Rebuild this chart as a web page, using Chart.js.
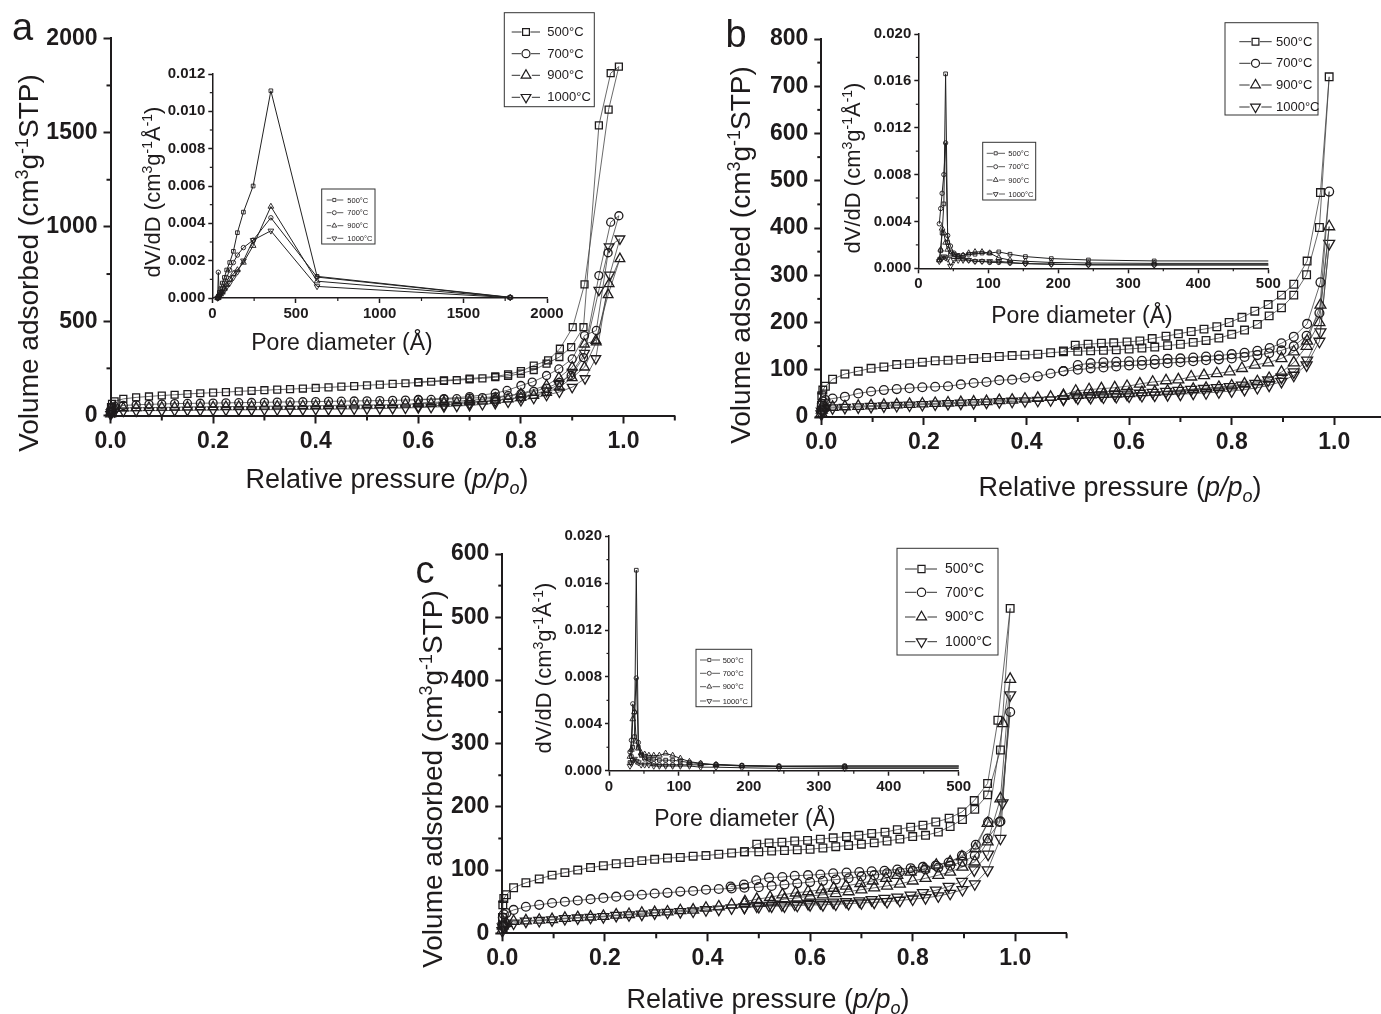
<!DOCTYPE html>
<html><head><meta charset="utf-8">
<script src="https://cdn.jsdelivr.net/npm/chart.js@4.4.1/dist/chart.umd.min.js"></script>
<style>
html,body{margin:0;padding:0;background:#fff;overflow:hidden;width:1381px;height:1014px;}
#wrap{position:relative;width:1381px;height:1014px;overflow:hidden;background:#fff;}
</style></head><body>
<div id="wrap"></div>
<script>
// ---------------- DATA ----------------
const SERIES_LABELS = ['500°C', '700°C', '900°C', '1000°C'];

// Panel a : isotherms (relative pressure p/po, volume cm3/g STP)
const P_LOW_A = [0.0003,0.001,0.003,0.008,0.025,0.05,0.075,0.1,0.125,0.15,0.175,0.2,0.225,0.25,0.275,0.3,0.325,0.35,0.375,0.4,0.425,0.45,0.475,0.5,0.525,0.55,0.575,0.6,0.625,0.65,0.675,0.7,0.725,0.75,0.775,0.8,0.825,0.85];
const A500_LOW  = [20,45,62,75,88,96,101,106,110,114,118,121,124,128,131,134,137,140,143,146,149,153,156,160,164,168,171,175,179,183,187,192,197,203,210,222,241,275];
const A700_LOW  = [15,30,40,48,53,57,59,61,63,64,65,66,67,68,69,70,71,72,73,74,75,76,77,78,79,80,82,83,85,87,89,92,95,99,105,115,128,145];
const A900_LOW  = [8,22,32,38,40,41,42,43,44,45,46,46,47,48,48,49,50,50,51,52,53,54,55,56,57,58,60,62,64,66,69,72,76,81,87,95,106,122];
const A1000_LOW = [5,15,20,22,24,25,26,26,27,28,28,29,29,30,30,31,31,32,32,33,33,34,35,36,37,38,40,42,44,47,50,54,59,65,72,80,92,108];
const A500_TAIL  = [[0.875,310],[0.898,362],[0.922,468],[0.952,1538],[0.975,1815],[0.991,1850],[0.971,1622],[0.924,695],[0.901,468],[0.876,354],[0.853,292],[0.825,265],[0.8,235],[0.775,218],[0.75,207],[0.7,196],[0.65,186],[0.6,177]];
const A700_TAIL  = [[0.875,175],[0.898,212],[0.922,307],[0.952,742],[0.975,1025],[0.991,1059],[0.97,863],[0.947,451],[0.924,424],[0.9,300],[0.874,247],[0.85,212],[0.822,177],[0.8,159],[0.773,133],[0.75,118],[0.7,100],[0.65,90],[0.6,85]];
const A900_TAIL  = [[0.875,150],[0.9,200],[0.924,256],[0.947,389],[0.972,698],[0.993,831],[0.97,640],[0.946,398],[0.924,378],[0.9,256],[0.874,200],[0.85,160],[0.8,115],[0.75,92],[0.7,80],[0.65,72],[0.6,66]];
const A1000_TAIL = [[0.875,125],[0.9,150],[0.925,196],[0.946,302],[0.973,745],[0.993,937],[0.972,895],[0.952,665],[0.924,330],[0.9,230],[0.874,165],[0.85,130],[0.8,98],[0.75,78],[0.7,64],[0.65,55],[0.6,48]];

// Panels b and c : adsorption branch grid
const P_ADS_BC = [0.0003,0.001,0.003,0.008,0.022,0.046,0.072,0.097,0.122,0.147,0.172,0.197,0.222,0.247,0.272,0.297,0.322,0.347,0.372,0.397,0.422,0.447,0.472,0.5,0.525,0.55,0.575,0.6,0.625,0.65,0.675,0.7,0.725,0.75,0.775,0.8,0.825,0.85,0.873,0.897,0.921,0.946,0.971,0.99];

// Panel b
const B500_ADS  = [25,45,57,65,80,91,97,103,106,111,113,116,119,120,122,124,126,128,130,131,133,136,138,139,140,141,142,144,146,148,151,154,158,162,167,175,184,196,214,231,258,301,401,720];
const B700_ADS  = [15,28,33,36,39,43,50,54,57,59,61,63,64,65,69,72,74,78,79,83,86,92,97,100,103,105,107,109,110,112,114,116,118,120,122,124,127,131,135,141,150,172,220,477];
const B900_ADS  = [8,15,19,21,21,22,23,24,25,26,27,28,29,30,31,32,33,35,36,38,40,42,44,46,47,48,49,50,52,53,55,57,59,61,63,66,70,75,82,95,115,150,200,403];
const B1000_ADS = [6,12,16,18,19,20,21,22,23,24,25,26,27,28,29,30,31,32,33,34,35,36,38,40,41,42,43,44,45,46,47,48,50,51,53,55,58,62,67,75,88,110,160,367];
const B500_DES  = [[0.973,475],[0.947,330],[0.921,281],[0.897,258],[0.871,238],[0.845,224],[0.82,211],[0.795,200],[0.771,191],[0.746,186],[0.721,181],[0.696,176],[0.672,171],[0.645,166],[0.621,161],[0.596,159],[0.57,157],[0.546,156],[0.52,154],[0.495,152],[0.472,140]];
const B700_DES  = [[0.973,285],[0.947,197],[0.921,170],[0.897,156],[0.874,146],[0.85,140],[0.825,136],[0.8,133],[0.775,130],[0.75,128],[0.725,126],[0.7,124],[0.675,123],[0.65,121],[0.625,119],[0.6,118],[0.575,117],[0.55,116],[0.525,114],[0.5,110],[0.472,97]];
const B900_DES  = [[0.973,237],[0.947,161],[0.921,138],[0.897,124],[0.871,115],[0.845,110],[0.82,103],[0.796,96],[0.771,92],[0.746,88],[0.721,85],[0.696,79],[0.672,77],[0.646,74],[0.621,70],[0.596,65],[0.572,62],[0.546,60],[0.522,58],[0.496,55],[0.472,46]];
const B1000_DES = [[0.973,180],[0.947,120],[0.921,95],[0.897,84],[0.871,78],[0.846,71],[0.82,67],[0.796,64],[0.771,62],[0.746,60],[0.721,58],[0.696,56],[0.672,54],[0.646,52],[0.621,50],[0.596,48],[0.572,47],[0.546,46],[0.522,45],[0.496,44],[0.472,38]];

// Panel c
const C500_ADS  = [25,45,55,61,72,80,86,92,96,100,104,107,110,112,115,117,119,120,122,123,125,127,129,129,130,131,132,133,135,137,139,141,143,146,149,153,155,160,169,180,196,219,290,514];
const C700_ADS  = [12,25,30,32,37,42,45,48,50,52,54,56,58,60,61,63,64,66,67,69,70,71,72,73,75,77,79,81,83,85,87,90,92,95,97,99,101,104,107,113,123,150,177,350];
const C900_ADS  = [5,12,15,16,19,20,21,22,24,25,26,27,29,30,32,33,34,36,37,40,42,45,47,48,50,54,56,59,61,63,66,69,72,75,78,83,87,92,97,105,113,145,213,402];
const C1000_ADS = [4,10,12,13,16,19,20,21,23,24,25,26,28,29,30,32,33,34,35,37,38,40,41,42,43,43,44,45,45,46,47,48,49,50,52,54,56,59,63,69,78,100,150,377];
const C500_DES  = [[0.966,337],[0.946,237],[0.92,210],[0.896,192],[0.871,182],[0.845,176],[0.82,171],[0.796,168],[0.77,164],[0.746,160],[0.72,158],[0.695,155],[0.671,153],[0.645,151],[0.62,149],[0.595,147],[0.57,146],[0.545,144],[0.52,143],[0.496,141],[0.472,129]];
const C700_DES  = [[0.969,176],[0.947,176],[0.923,140],[0.896,123],[0.87,112],[0.845,107],[0.82,105],[0.796,103],[0.77,101],[0.745,99],[0.72,98],[0.696,97],[0.671,96],[0.645,95],[0.62,93],[0.596,92],[0.57,91],[0.546,89],[0.52,88],[0.495,84],[0.471,77],[0.445,74]];
const C900_DES  = [[0.976,332],[0.946,174],[0.922,134],[0.896,121],[0.873,113],[0.846,108],[0.822,102],[0.796,97],[0.77,92],[0.748,87],[0.722,83],[0.698,79],[0.67,75],[0.646,71.5],[0.622,69],[0.596,66],[0.572,64],[0.546,61],[0.522,57],[0.496,54],[0.473,50]];
const C1000_DES = [[0.975,206],[0.947,125],[0.92,100],[0.896,82],[0.87,74],[0.845,68],[0.82,64],[0.796,60],[0.77,57],[0.745,55],[0.72,53],[0.696,51],[0.67,50],[0.645,49],[0.62,48],[0.596,47],[0.57,46],[0.545,45],[0.52,44],[0.496,43],[0.472,41]];

// Insets: pore size distributions (pore diameter Å, dV/dD)
const D_A = [32,36,42,50,60,72,86,104,126,150,186,244,350,626,1780];
const IA500  = [0,0.0001,0.0003,0.0005,0.0008,0.0011,0.0015,0.0019,0.0025,0.0035,0.0046,0.0060,0.0111,0.00116,0.00004];
const IA700  = [0,0.00138,0.0001,0.0003,0.0005,0.0008,0.0011,0.0015,0.0019,0.0023,0.0027,0.0031,0.0043,0.00112,0.00003];
const IA900  = [0,0.00002,0.0001,0.0002,0.0003,0.0005,0.0007,0.001,0.0013,0.0015,0.0019,0.0028,0.0049,0.0009,0.00003];
const IA1000 = [0,0.00002,0.0001,0.0002,0.0003,0.0004,0.0006,0.0008,0.0011,0.0014,0.002,0.0031,0.0036,0.00062,0.00002];

const D_BC = [30,32,34,36.5,39,42,46,51,57,64,72,81,91,102,115,131,153,190,243,337,1780];
const IB500  = [0.0007,0.0015,0.0030,0.0055,0.0166,0.0022,0.0014,0.0012,0.0011,0.0011,0.0012,0.0012,0.0013,0.0013,0.0014,0.0012,0.0010,0.00083,0.00071,0.00063,0.0006];
const IB700  = [0.0038,0.0051,0.0064,0.0080,0.0107,0.0028,0.0019,0.0013,0.0010,0.0008,0.0007,0.0006,0.0006,0.0005,0.0005,0.00045,0.0004,0.00035,0.0003,0.00028,0.00027];
const IB900  = [0.0007,0.0016,0.0034,0.0030,0.0022,0.0016,0.0012,0.0010,0.0010,0.0011,0.0013,0.0014,0.0014,0.0013,0.0009,0.0007,0.0006,0.0005,0.00045,0.00042,0.0004];
const IB1000 = [0.0006,0.0008,0.0009,0.0010,0.0009,0.0008,0.0002,0.0007,0.0007,0.0007,0.0007,0.0006,0.0006,0.0006,0.0006,0.0005,0.0004,0.00035,0.0003,0.0003,0.0003];
const IC500  = [0.0007,0.0012,0.0020,0.0029,0.0171,0.0020,0.0013,0.0011,0.0010,0.0010,0.0009,0.0009,0.0009,0.0008,0.0007,0.0006,0.0005,0.00045,0.0004,0.0004,0.0004];
const IC700  = [0.0016,0.0026,0.0057,0.0050,0.0079,0.0024,0.0014,0.0010,0.0008,0.0006,0.0005,0.0005,0.0005,0.0005,0.0005,0.0005,0.00055,0.00043,0.00036,0.0004,0.0004];
const IC900  = [0.0012,0.0018,0.0044,0.0050,0.0025,0.0019,0.0015,0.0014,0.0013,0.0013,0.0013,0.00148,0.0013,0.00105,0.00077,0.00063,0.0005,0.0004,0.00035,0.0003,0.0003];
const IC1000 = [0.0004,0.0006,0.0009,0.0010,0.0008,0.0007,0.0005,0.0005,0.0005,0.0004,0.0004,0.0004,0.0004,0.0004,0.0004,0.0003,0.0003,0.00025,0.0002,0.0002,0.0002];

// Tick values
const X_MAIN_TICKS = [0,0.2,0.4,0.6,0.8,1.0];
const X_MAIN_MINOR = [0.1,0.3,0.5,0.7,0.9,1.1];
const Y_TICKS_A = [0,500,1000,1500,2000];
const Y_MINOR_A = [250,750,1250,1750];
const Y_TICKS_B = [0,100,200,300,400,500,600,700,800];
const Y_MINOR_B = [50,150,250,350,450,550,650,750];
const Y_TICKS_C = [0,100,200,300,400,500,600];
const Y_MINOR_C = [50,150,250,350,450,550];
const XI_TICKS_A = [0,500,1000,1500,2000];
const XI_MINOR_A = [250,750,1250,1750];
const YI_TICKS_A = [0,0.002,0.004,0.006,0.008,0.010,0.012];
const YI_MINOR_A = [0.001,0.003,0.005,0.007,0.009,0.011];
const XI_TICKS_BC = [0,100,200,300,400,500];
const XI_MINOR_BC = [50,150,250,350,450];
const YI_TICKS_BC = [0,0.004,0.008,0.012,0.016,0.020];
const YI_MINOR_BC = [0.002,0.006,0.010,0.014,0.018];

// ---------------- RENDERING ----------------
const FONT = '"Liberation Sans", Arial, Helvetica, sans-serif';
const INK = '#1e1b1c';
const STYLES = [{ps:'rect', rot:0, m:'rect'}, {ps:'circle', rot:0, m:'circle'}, {ps:'triangle', rot:0, m:'up'}, {ps:'triangle', rot:180, m:'down'}];
const EXTRAS = new Map();

function pts(xs, ys) { return xs.map((x, i) => ({x: x, y: ys[i]})); }
function pairs(arr) { return arr.map(p => ({x: p[0], y: p[1]})); }

function fontOf(r) { return (r.it ? 'italic ' : '') + (r.b ? 'bold ' : '') + r.s + 'px ' + FONT; }

function drawRuns(ctx, item, ox, oy) {
  ctx.save();
  ctx.translate(item.x - ox, item.y - oy);
  if (item.rot) ctx.rotate(-Math.PI / 2);
  ctx.fillStyle = INK;
  ctx.textAlign = 'left';
  ctx.textBaseline = 'alphabetic';
  let total = 0;
  const ws = item.runs.map(r => { ctx.font = fontOf(r); const w = ctx.measureText(r.t).width; total += w; return w; });
  const base = item.bl ? 0 : item.runs[0].s * 0.36;
  let x = -total / 2;
  item.runs.forEach((r, i) => { ctx.font = fontOf(r); ctx.fillText(r.t, x, base + (r.dy || 0)); x += ws[i]; });
  ctx.restore();
}

function drawMarker(ctx, kind, x, y, r, lw) {
  ctx.beginPath();
  if (kind === 'rect') { const s = r * 1.414; ctx.rect(x - s / 2, y - s / 2, s, s); }
  else if (kind === 'circle') { ctx.arc(x, y, r, 0, Math.PI * 2); }
  else if (kind === 'up') { ctx.moveTo(x, y - r); ctx.lineTo(x + r * 0.866, y + r * 0.5); ctx.lineTo(x - r * 0.866, y + r * 0.5); ctx.closePath(); }
  else { ctx.moveTo(x, y + r); ctx.lineTo(x + r * 0.866, y - r * 0.5); ctx.lineTo(x - r * 0.866, y - r * 0.5); ctx.closePath(); }
  ctx.lineWidth = lw; ctx.strokeStyle = INK; ctx.stroke();
}

function drawLegend(ctx, L, ox, oy) {
  const [x0, y0, x1, y1] = L.box;
  ctx.save();
  ctx.fillStyle = '#fff';
  ctx.fillRect(x0 - ox, y0 - oy, x1 - x0, y1 - y0);
  ctx.strokeStyle = '#333'; ctx.lineWidth = L.bw;
  ctx.strokeRect(x0 - ox, y0 - oy, x1 - x0, y1 - y0);
  SERIES_LABELS.forEach((lab, i) => {
    const y = L.rows[i] - oy, mx = L.mx - ox, r = L.mr[i];
    const half = (i === 0 ? r * 0.707 : (i === 1 ? r : r * 0.866)) + L.gap;
    ctx.beginPath();
    ctx.moveTo(L.line[0] - ox, y); ctx.lineTo(mx - half, y);
    ctx.moveTo(mx + half, y); ctx.lineTo(L.line[1] - ox, y);
    ctx.lineWidth = L.lw; ctx.strokeStyle = '#333'; ctx.stroke();
    drawMarker(ctx, STYLES[i].m, mx, y, r, L.mlw);
    ctx.fillStyle = INK; ctx.font = L.fs + 'px ' + FONT;
    ctx.textAlign = 'left'; ctx.textBaseline = 'middle';
    ctx.fillText(lab, L.tx - ox, y + 0.5);
  });
  ctx.restore();
}

Chart.register({
  id: 'extras',
  afterDraw(chart) {
    const e = EXTRAS.get(chart.canvas);
    if (!e) return;
    const ctx = chart.ctx, ca = chart.chartArea;
    ctx.save();
    ctx.strokeStyle = INK;
    const sx = chart.scales.x, sy = chart.scales.y;
    ctx.lineWidth = e.x.mw;
    e.x.minor.forEach(v => { const p = sx.getPixelForValue(v); ctx.beginPath(); ctx.moveTo(p, ca.bottom); ctx.lineTo(p, ca.bottom + e.x.ml); ctx.stroke(); });
    ctx.lineWidth = e.y.mw;
    e.y.minor.forEach(v => { const p = sy.getPixelForValue(v); ctx.beginPath(); ctx.moveTo(ca.left, p); ctx.lineTo(ca.left - e.y.ml, p); ctx.stroke(); });
    ctx.restore();
    if (e.legend) drawLegend(ctx, e.legend, e.ox, e.oy);
    (e.texts || []).forEach(t => drawRuns(ctx, t, e.ox, e.oy));
  }
});

function makeChart(o) {
  const [cx, cy, cw, ch] = o.cv; const [l, t, r, b] = o.area;
  const div = document.createElement('div');
  div.style.cssText = 'position:absolute;left:' + cx + 'px;top:' + cy + 'px;width:' + cw + 'px;height:' + ch + 'px;';
  const cv = document.createElement('canvas');
  div.appendChild(cv); document.getElementById('wrap').appendChild(div);
  EXTRAS.set(cv, {ox: cx, oy: cy, x: o.x, y: o.y, legend: o.legend, texts: o.texts});
  const padL = l - cx, padT = t - cy, padR = cx + cw - r, padB = cy + ch - b;
  const axis = (a, isX) => ({
    type: 'linear', position: isX ? 'bottom' : 'left', min: a.min, max: a.max,
    afterBuildTicks: s => { s.ticks = a.ticks.map(v => ({value: v})); },
    afterFit: s => { if (isX) s.height = padB; else s.width = padL; },
    ticks: {callback: a.fmt, font: {family: FONT, size: a.fs, weight: 'bold'}, color: INK, padding: a.pad, autoSkip: false, maxRotation: 0, minRotation: 0},
    grid: {display: true, drawOnChartArea: false, drawTicks: true, tickLength: a.tl, tickWidth: a.tw, tickColor: INK},
    border: {display: true, color: INK, width: a.bw}
  });
  return new Chart(cv, {
    type: 'scatter',
    data: {datasets: o.datasets},
    options: {
      responsive: true, maintainAspectRatio: false, animation: false, events: [],
      layout: {padding: {left: 0, top: padT, right: padR, bottom: 0}},
      plugins: {legend: {display: false}, tooltip: {enabled: false}},
      scales: {x: axis(o.x, true), y: axis(o.y, false)}
    }
  });
}

function ds(data, k, radii, lineW, lineC, ptW, clip) {
  return {
    data: data, showLine: true, tension: 0, fill: false,
    borderColor: lineC, borderWidth: lineW,
    pointStyle: STYLES[k].ps, pointRotation: STYLES[k].rot,
    pointRadius: radii[k], pointHoverRadius: radii[k],
    pointBorderColor: INK, pointBackgroundColor: 'rgba(0,0,0,0)', pointBorderWidth: ptW,
    clip: clip
  };
}

const fmt1 = v => Number(v).toFixed(1);
const fmt0 = v => String(Math.round(v));
const fmt3 = v => Number(v).toFixed(3);

function mainAxisX() { return {min: 0, max: 1.1, ticks: X_MAIN_TICKS, minor: X_MAIN_MINOR, fmt: fmt1, fs: 23, pad: 4, tl: 8, tw: 2, bw: 2, ml: 5, mw: 2}; }
function mainAxisY(max, ticks, minor) { return {min: 0, max: max, ticks: ticks, minor: minor, fmt: fmt0, fs: 23, pad: 6, tl: 7, tw: 2, bw: 2, ml: 4, mw: 2}; }
function insetAxisX(max, ticks, minor) { return {min: 0, max: max, ticks: ticks, minor: minor, fmt: fmt0, fs: 15, pad: 2, tl: 5, tw: 1.5, bw: 1.5, ml: 3, mw: 1.2}; }
function insetAxisY(max, ticks, minor) { return {min: 0, max: max, ticks: ticks, minor: minor, fmt: fmt3, fs: 15, pad: 3, tl: 4, tw: 1.5, bw: 1.5, ml: 2.5, mw: 1.2}; }

function yTitleMain(x, y) {
  return {x: x, y: y, rot: true, runs: [{t: 'Volume adsorbed (cm', s: 28}, {t: '3', s: 18, dy: -10}, {t: 'g', s: 28}, {t: '-1', s: 18, dy: -10}, {t: 'STP)', s: 28}]};
}
function xTitleMain(x, y) {
  return {x: x, y: y, runs: [{t: 'Relative pressure (', s: 27}, {t: 'p/p', s: 27, it: true}, {t: 'o', s: 18, it: true, dy: 6}, {t: ')', s: 27}]};
}
function yTitleInset(x, y) {
  return {x: x, y: y, rot: true, runs: [{t: 'dV/dD (cm', s: 22}, {t: '3', s: 14, dy: -8}, {t: 'g', s: 22}, {t: '-1', s: 14, dy: -8}, {t: 'Å', s: 22}, {t: '-1', s: 14, dy: -8}, {t: ')', s: 22}]};
}
function xTitleInset(x, y) { return {x: x, y: y, runs: [{t: 'Pore diameter (Å)', s: 23}]}; }
function letter(ch, x, y) { return {x: x, y: y, bl: true, runs: [{t: ch, s: 38}]}; }

const RAD_A = [4.9, 4, 5.6, 5.6];
const RAD_M = [5.4, 4.4, 6.3, 6.3];
const RAD_I = [2.6, 2.2, 3.3, 3.3];
const LINE_M = '#444';
const CLIP_I = {left: 8, top: 8, right: 0, bottom: 8};

function legendMain(box, rows, line, mx, tx, fs, mr) {
  return {box: box, rows: rows, line: line, mx: mx, tx: tx, fs: fs, mr: mr, gap: 1, lw: 1, mlw: 1.2, bw: 1};
}
function legendInset(box, rows, line, mx, tx) {
  return {box: box, rows: rows, line: line, mx: mx, tx: tx, fs: 7.5, mr: [2.2, 2, 2.8, 2.8], gap: 0.8, lw: 0.8, mlw: 0.8, bw: 1};
}

// ---- Panel a (main) ----
makeChart({
  cv: [0, 0, 700, 520], area: [110.5, 38.3, 674.8, 415.5],
  x: mainAxisX(), y: mainAxisY(2000, Y_TICKS_A, Y_MINOR_A),
  datasets: [
    ds(pts(P_LOW_A, A500_LOW).concat(pairs(A500_TAIL)), 0, RAD_A, 0.8, LINE_M, 1.3, false),
    ds(pts(P_LOW_A, A700_LOW).concat(pairs(A700_TAIL)), 1, RAD_A, 0.8, LINE_M, 1.3, false),
    ds(pts(P_LOW_A, A900_LOW).concat(pairs(A900_TAIL)), 2, RAD_A, 0.8, LINE_M, 1.3, false),
    ds(pts(P_LOW_A, A1000_LOW).concat(pairs(A1000_TAIL)), 3, RAD_A, 0.8, LINE_M, 1.3, false)
  ],
  legend: legendMain([504.3, 12.7, 594.3, 106.7], [32, 53.7, 75.3, 97.3], [511.7, 540], 526, 547.3, 13, [4.8, 4, 5.6, 5.6]),
  texts: [letter('a', 22.5, 40), yTitleMain(28, 263), xTitleMain(387, 478)]
});

// ---- Panel b (main) ----
makeChart({
  cv: [700, 0, 700, 520], area: [821.3, 39, 1385.6, 417],
  x: mainAxisX(), y: mainAxisY(800, Y_TICKS_B, Y_MINOR_B),
  datasets: [
    ds(pts(P_ADS_BC, B500_ADS).concat(pairs(B500_DES)), 0, RAD_M, 0.8, LINE_M, 1.3, false),
    ds(pts(P_ADS_BC, B700_ADS).concat(pairs(B700_DES)), 1, RAD_M, 0.8, LINE_M, 1.3, false),
    ds(pts(P_ADS_BC, B900_ADS).concat(pairs(B900_DES)), 2, RAD_M, 0.8, LINE_M, 1.3, false),
    ds(pts(P_ADS_BC, B1000_ADS).concat(pairs(B1000_DES)), 3, RAD_M, 0.8, LINE_M, 1.3, false)
  ],
  legend: legendMain([1225, 22.7, 1318, 115], [41.7, 63.3, 85, 107], [1239.3, 1271.7], 1255.5, 1276, 13, [4.8, 4, 5.6, 5.6]),
  texts: [letter('b', 736, 47), yTitleMain(740, 255), xTitleMain(1120, 486)]
});

// ---- Panel c (main) ----
makeChart({
  cv: [380, 520, 720, 494], area: [502.3, 554, 1066.6, 933.3],
  x: mainAxisX(), y: mainAxisY(600, Y_TICKS_C, Y_MINOR_C),
  datasets: [
    ds(pts(P_ADS_BC, C500_ADS).concat(pairs(C500_DES)), 0, RAD_M, 0.8, LINE_M, 1.3, false),
    ds(pts(P_ADS_BC, C700_ADS).concat(pairs(C700_DES)), 1, RAD_M, 0.8, LINE_M, 1.3, false),
    ds(pts(P_ADS_BC, C900_ADS).concat(pairs(C900_DES)), 2, RAD_M, 0.8, LINE_M, 1.3, false),
    ds(pts(P_ADS_BC, C1000_ADS).concat(pairs(C1000_DES)), 3, RAD_M, 0.8, LINE_M, 1.3, false)
  ],
  legend: legendMain([897, 548.3, 998, 655], [569, 592.3, 617, 641.7], [905, 937], 921.5, 945, 14, [5, 4.2, 5.8, 5.8]),
  texts: [letter('c', 425, 583), yTitleMain(432, 779), xTitleMain(768, 998)]
});

// ---- Inset a ----
makeChart({
  cv: [130, 55, 440, 310], area: [212.3, 74, 547, 298],
  x: insetAxisX(2000, XI_TICKS_A, XI_MINOR_A), y: insetAxisY(0.012, YI_TICKS_A, YI_MINOR_A),
  datasets: [
    ds(pts(D_A, IA500), 0, RAD_I, 1, '#222', 0.9, CLIP_I),
    ds(pts(D_A, IA700), 1, RAD_I, 1, '#222', 0.9, CLIP_I),
    ds(pts(D_A, IA900), 2, RAD_I, 1, '#222', 0.9, CLIP_I),
    ds(pts(D_A, IA1000), 3, RAD_I, 1, '#222', 0.9, CLIP_I)
  ],
  legend: legendInset([321.7, 189, 375, 244], [200, 212.7, 225.7, 238.3], [326.7, 343.3], 334.3, 347.3),
  texts: [yTitleInset(151.7, 192), xTitleInset(342, 341.7)]
});

// ---- Inset b ----
makeChart({
  cv: [835, 15, 455, 320], area: [918.3, 34, 1268.3, 268.3],
  x: insetAxisX(500, XI_TICKS_BC, XI_MINOR_BC), y: insetAxisY(0.020, YI_TICKS_BC, YI_MINOR_BC),
  datasets: [
    ds(pts(D_BC, IB500), 0, RAD_I, 1, '#222', 0.9, CLIP_I),
    ds(pts(D_BC, IB700), 1, RAD_I, 1, '#222', 0.9, CLIP_I),
    ds(pts(D_BC, IB900), 2, RAD_I, 1, '#222', 0.9, CLIP_I),
    ds(pts(D_BC, IB1000), 3, RAD_I, 1, '#222', 0.9, CLIP_I)
  ],
  legend: legendInset([982.7, 142.3, 1035.7, 200], [153.3, 166.7, 180, 194], [986.7, 1005], 995.7, 1008.3),
  texts: [yTitleInset(852, 168), xTitleInset(1082, 315)]
});

// ---- Inset c ----
makeChart({
  cv: [525, 518, 455, 320], area: [609, 536.2, 958.7, 770.7],
  x: insetAxisX(500, XI_TICKS_BC, XI_MINOR_BC), y: insetAxisY(0.020, YI_TICKS_BC, YI_MINOR_BC),
  datasets: [
    ds(pts(D_BC, IC500), 0, RAD_I, 1, '#222', 0.9, CLIP_I),
    ds(pts(D_BC, IC700), 1, RAD_I, 1, '#222', 0.9, CLIP_I),
    ds(pts(D_BC, IC900), 2, RAD_I, 1, '#222', 0.9, CLIP_I),
    ds(pts(D_BC, IC1000), 3, RAD_I, 1, '#222', 0.9, CLIP_I)
  ],
  legend: legendInset([696, 649.3, 751.7, 706.7], [660, 673.3, 686.7, 701], [700, 720], 709.3, 722.7),
  texts: [yTitleInset(543, 668), xTitleInset(745, 818)]
});
</script>
</body></html>
